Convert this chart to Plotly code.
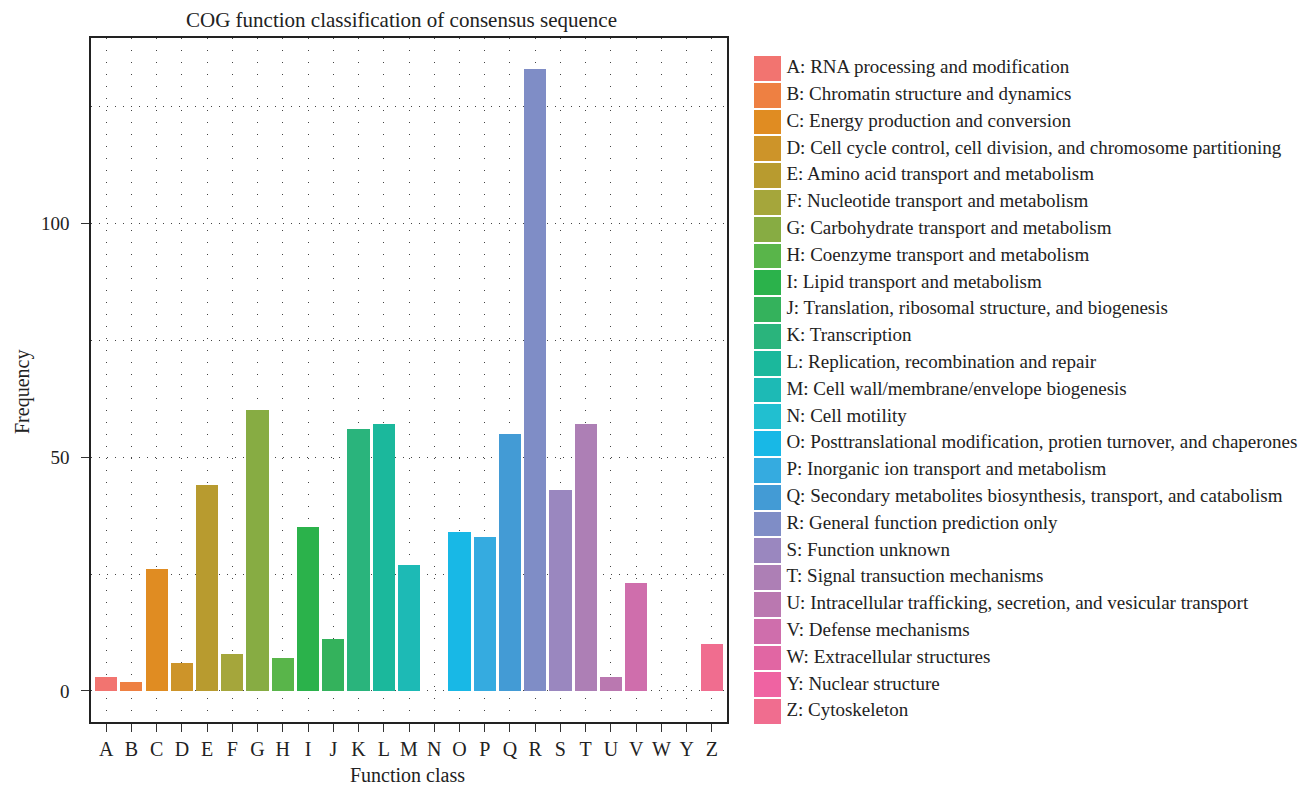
import plotly.graph_objects as go

# ---- data ----
categories = ["A", "B", "C", "D", "E", "F", "G", "H", "I", "J", "K", "L", "M",
              "N", "O", "P", "Q", "R", "S", "T", "U", "V", "W", "Y", "Z"]
frequency = [3, 2, 26, 6, 44, 8, 60, 7, 35, 11, 56, 57, 27,
             0, 34, 33, 55, 133, 43, 57, 3, 23, 0, 0, 10]
descriptions = [
    "A: RNA processing and modification",
    "B: Chromatin structure and dynamics",
    "C: Energy production and conversion",
    "D: Cell cycle control, cell division, and chromosome partitioning",
    "E: Amino acid transport and metabolism",
    "F: Nucleotide transport and metabolism",
    "G: Carbohydrate transport and metabolism",
    "H: Coenzyme transport and metabolism",
    "I: Lipid transport and metabolism",
    "J: Translation, ribosomal structure, and biogenesis",
    "K: Transcription",
    "L: Replication, recombination and repair",
    "M: Cell wall/membrane/envelope biogenesis",
    "N: Cell motility",
    "O: Posttranslational modification, protien turnover, and chaperones",
    "P: Inorganic ion transport and metabolism",
    "Q: Secondary metabolites biosynthesis, transport, and catabolism",
    "R: General function prediction only",
    "S: Function unknown",
    "T: Signal transuction mechanisms",
    "U: Intracellular trafficking, secretion, and vesicular transport",
    "V: Defense mechanisms",
    "W: Extracellular structures",
    "Y: Nuclear structure",
    "Z: Cytoskeleton",
]
colors = ["#F27470", "#EE8042", "#E08C22", "#CD9429", "#B89B2F", "#A5A63B",
          "#87AC43", "#59B54A", "#2BB24B", "#34B25C", "#2AB47C", "#1BB89C",
          "#1DBAB5", "#21BFD0", "#18B8E6", "#35ABE0", "#439BD5", "#7F8DC6",
          "#9A87BF", "#AD7FB5", "#BA78B0", "#CF6EAC", "#E166A3", "#EF63A2",
          "#F06D8F"]
y_tick_values = [0, 50, 100]
y_minor_values = [25, 75, 125]

W, H = 1306, 786
FONT = "Liberation Serif"

# plot area / legend geometry in window pixels
px_l, px_r, px_t, px_b = 91, 727, 38, 722
lg_l, lg_t, lg_b = 754, 55, 725
swatch = 27.0

fig = go.Figure()

fig.add_trace(go.Bar(
    x=categories, y=frequency, marker=dict(color=colors, line=dict(width=0)),
    width=0.88, showlegend=False, xaxis="x", yaxis="y", hoverinfo="x+y",
))

# legend swatches as horizontal bars on a secondary axis pair
fig.add_trace(go.Bar(
    y=categories, x=[1] * len(categories), orientation="h",
    marker=dict(color=colors, line=dict(width=0)), width=0.93,
    showlegend=False, xaxis="x2", yaxis="y2", hoverinfo="skip",
))
fig.add_trace(go.Scatter(
    y=categories, x=[1.2] * len(categories), mode="text", text=descriptions,
    textposition="middle right", textfont=dict(family=FONT, size=19, color="#222"),
    showlegend=False, xaxis="x2", yaxis="y2", hoverinfo="skip",
))

grid_col = "#444"
fig.update_layout(
    width=W, height=H,
    margin=dict(l=0, r=0, t=0, b=0),
    paper_bgcolor="white", plot_bgcolor="white",
    font=dict(family=FONT, size=19, color="#222"),
    bargap=0,
    xaxis=dict(
        domain=[px_l / W, px_r / W], type="category",
        categoryorder="array", categoryarray=categories,
        range=[-0.6, len(categories) - 1 + 0.6],
        showline=True, mirror=True, linecolor="#222", linewidth=1.5,
        ticks="outside", ticklen=8, tickwidth=1.3, tickcolor="#333",
        tickfont=dict(family=FONT, size=20, color="#222"), ticklabelstandoff=0,
        showgrid=True, gridcolor=grid_col, gridwidth=1, griddash="1px,11px",
        zeroline=False, anchor="y", automargin=False, fixedrange=True,
    ),
    yaxis=dict(
        domain=[1 - px_b / H, 1 - px_t / H],
        range=[-6.65, 139.65],
        tickvals=y_tick_values, ticktext=[str(v) for v in y_tick_values],
        showline=True, mirror=True, linecolor="#222", linewidth=1.5,
        ticks="outside", ticklen=8, tickwidth=1.3, tickcolor="#333",
        tickfont=dict(family=FONT, size=19, color="#222"), ticklabelstandoff=8,
        showgrid=True, gridcolor=grid_col, gridwidth=1, griddash="1px,7px",
        minor=dict(tickvals=y_minor_values, showgrid=True, gridcolor=grid_col,
                   gridwidth=1, griddash="1px,7px", ticks=""),
        zeroline=False, anchor="x", automargin=False, fixedrange=True,
    ),
    xaxis2=dict(
        domain=[lg_l / W, 1.0], range=[0, (W - lg_l) / swatch],
        visible=False, anchor="y2", fixedrange=True,
    ),
    yaxis2=dict(
        domain=[1 - lg_b / H, 1 - lg_t / H], type="category",
        categoryorder="array", categoryarray=categories,
        range=[len(categories) - 0.5, -0.5],
        visible=False, anchor="x2", fixedrange=True,
    ),
    annotations=[
        dict(text="COG function classification of consensus sequence",
             x=401 / W, y=1 - 20 / H, xref="paper", yref="paper",
             xanchor="center", yanchor="middle", showarrow=False,
             font=dict(family=FONT, size=21, color="#222")),
        dict(text="Function class", x=407 / W, y=1 - 775 / H,
             xref="paper", yref="paper", xanchor="center", yanchor="middle",
             showarrow=False, font=dict(family=FONT, size=20, color="#222")),
        dict(text="Frequency", x=22 / W, y=1 - 392 / H,
             xref="paper", yref="paper", xanchor="center", yanchor="middle",
             showarrow=False, textangle=-90,
             font=dict(family=FONT, size=20, color="#222")),
    ],
)

# remove the default page margin so the figure fills the window exactly
fig.write_html(
    "out.html",
    config={"displayModeBar": False},
    post_script="document.body.style.margin='0';document.body.style.overflow='hidden';",
)
